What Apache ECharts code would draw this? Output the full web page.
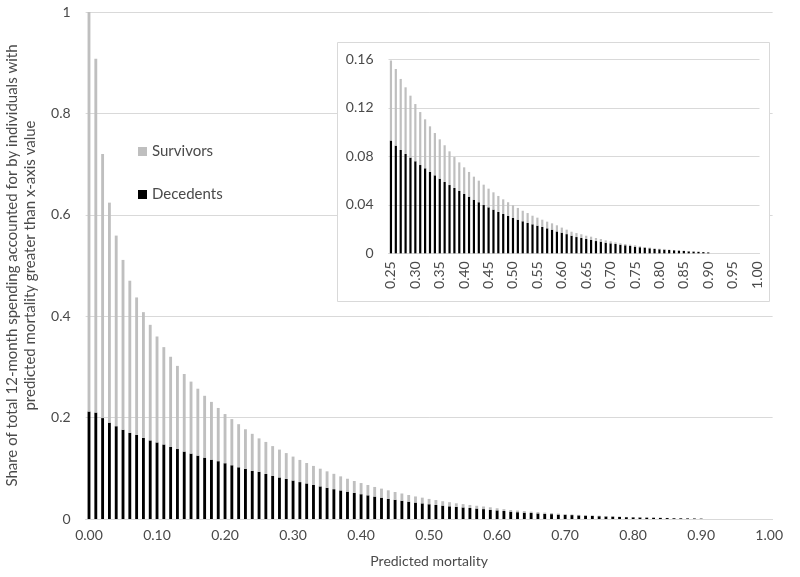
<!DOCTYPE html>
<html>
<head>
<meta charset="utf-8">
<script src="https://cdn.jsdelivr.net/npm/echarts@6/dist/echarts.min.js"></script>
<style>html,body{margin:0;padding:0;background:#fff}#c{width:800px;height:577px}</style>
</head>
<body>
<div id="c"></div>
<script>
var categories = ["0.00","0.01","0.02","0.03","0.04","0.05","0.06","0.07","0.08","0.09",
"0.10","0.11","0.12","0.13","0.14","0.15","0.16","0.17","0.18","0.19",
"0.20","0.21","0.22","0.23","0.24","0.25","0.26","0.27","0.28","0.29",
"0.30","0.31","0.32","0.33","0.34","0.35","0.36","0.37","0.38","0.39",
"0.40","0.41","0.42","0.43","0.44","0.45","0.46","0.47","0.48","0.49",
"0.50","0.51","0.52","0.53","0.54","0.55","0.56","0.57","0.58","0.59",
"0.60","0.61","0.62","0.63","0.64","0.65","0.66","0.67","0.68","0.69",
"0.70","0.71","0.72","0.73","0.74","0.75","0.76","0.77","0.78","0.79",
"0.80","0.81","0.82","0.83","0.84","0.85","0.86","0.87","0.88","0.89",
"0.90","0.91","0.92","0.93","0.94","0.95","0.96","0.97","0.98","0.99","1.00"];

var decedents = [0.212,0.210,0.199,0.190,0.183,0.176,0.170,0.166,0.160,0.155,
0.151,0.147,0.142,0.138,0.133,0.129,0.125,0.121,0.117,0.114,
0.110,0.106,0.102,0.099,0.095,0.093,0.0888,0.0852,0.0819,0.0789,
0.0759,0.0728,0.0701,0.0671,0.0643,0.0615,0.0588,0.0563,0.0539,0.0514,
0.0489,0.0467,0.0442,0.0421,0.0398,0.0379,0.0360,0.0341,0.0324,0.0308,
0.0291,0.0277,0.0264,0.0250,0.0239,0.0228,0.0217,0.0206,0.0195,0.0180,
0.0170,0.0158,0.0145,0.0134,0.0126,0.0118,0.0110,0.0101,0.0096,0.0087,
0.0082,0.0077,0.0071,0.0066,0.0060,0.0055,0.0050,0.0047,0.0041,0.0036,
0.0033,0.0030,0.0027,0.0025,0.0022,0.0019,0.0016,0.0014,0.0012,0.0010,
0.0007,0,0,0,0,0,0,0,0,0,0];

var survivors = [0.788,0.698,0.521,0.434,0.376,0.335,0.300,0.271,0.248,0.228,
0.209,0.192,0.178,0.164,0.153,0.142,0.132,0.122,0.114,0.105,
0.097,0.091,0.085,0.078,0.073,0.066,0.0632,0.0586,0.0550,0.0511,
0.0472,0.0437,0.0404,0.0376,0.0349,0.0325,0.0303,0.0278,0.0255,0.0236,
0.0220,0.0204,0.0190,0.0178,0.0168,0.0154,0.0143,0.0132,0.0121,0.0113,
0.0105,0.0097,0.0087,0.0082,0.0071,0.0066,0.0060,0.0055,0.0052,0.0051,
0.0042,0.0037,0.0033,0.0033,0.0031,0.0027,0.0027,0.0025,0.0022,0.0020,
0.0017,0.0013,0.0011,0.0011,0.0011,0.0011,0.0008,0.0005,0.0006,0.0005,
0.0005,0.0006,0.0003,0.0002,0.0003,0.0003,0.0003,0.0002,0.0002,0.0001,
0.0001,0,0,0,0,0,0,0,0,0,0];

var mainYTicks = ["0","0.2","0.4","0.6","0.8","1"];
var insetYTicks = ["0","0.04","0.08","0.12","0.16"];
var insetStart = 25;

var insetCats = categories.slice(insetStart);
var insetDec = decedents.slice(insetStart);
var insetSurv = survivors.slice(insetStart);

var FONT = "Lato";
var TXT = "#4a4a4a";
var GRID = "#d9d9d9";

var chart = echarts.init(document.getElementById('c'), null, {renderer: 'canvas'});
chart.setOption({
  animation: false,
  backgroundColor: '#fff',
  textStyle: {fontFamily: FONT},
  graphic: [{
    type: 'rect', z: 1,
    shape: {x: 337.5, y: 42.5, width: 432, height: 259},
    style: {fill: '#fff', stroke: GRID, lineWidth: 1}
  }],
  legend: {
    orient: 'vertical', left: 133, top: 139,
    itemGap: 28, itemWidth: 9, itemHeight: 9,
    icon: 'rect',
    textStyle: {color: TXT, fontSize: 15, fontFamily: FONT},
    data: ['Survivors', 'Decedents']
  },
  grid: [
    {left: 85.6, right: 27.4, top: 12, bottom: 58, outerBoundsMode: 'none', containLabel: false},
    {left: 388.5, right: 40.5, top: 59.3, bottom: 323.7, outerBoundsMode: 'none', containLabel: false}
  ],
  xAxis: [{
    type: 'category', gridIndex: 0, data: categories,
    axisLine: {lineStyle: {color: GRID}}, axisTick: {show: false},
    axisLabel: {interval: 9, color: TXT, fontSize: 14, margin: 9, fontFamily: FONT},
    name: 'Predicted mortality', nameLocation: 'middle', nameGap: 35,
    nameTextStyle: {color: TXT, fontSize: 14, fontFamily: FONT}
  }, {
    type: 'category', gridIndex: 1, data: insetCats, z: 3,
    axisLine: {lineStyle: {color: GRID}}, axisTick: {show: false},
    axisLabel: {interval: 4, rotate: 90, color: TXT, fontSize: 14, margin: 8, fontFamily: FONT}
  }],
  yAxis: [{
    type: 'value', gridIndex: 0, min: 0, max: 1, interval: 0.2,
    axisLine: {show: false}, axisTick: {show: false},
    splitLine: {lineStyle: {color: GRID}},
    axisLabel: {color: TXT, fontSize: 14, margin: 15, fontFamily: FONT,
      formatter: function (v) { return mainYTicks[Math.round(v / 0.2)]; }},
    name: 'Share of total 12-month spending accounted for by individuals with\npredicted mortality greater than x-axis value',
    nameLocation: 'middle', nameGap: 46,
    nameTextStyle: {color: TXT, fontSize: 15, lineHeight: 18, fontFamily: FONT}
  }, {
    type: 'value', gridIndex: 1, min: 0, max: 0.16, interval: 0.04, z: 3,
    axisLine: {show: false}, axisTick: {show: false},
    splitLine: {lineStyle: {color: GRID}},
    axisLabel: {color: TXT, fontSize: 14, margin: 15, fontFamily: FONT,
      formatter: function (v) { return insetYTicks[Math.round(v / 0.04)]; }}
  }],
  series: [
    {name: 'Decedents', type: 'bar', stack: 'm', xAxisIndex: 0, yAxisIndex: 0,
     data: decedents, barWidth: '42%', itemStyle: {color: '#000'}},
    {name: 'Survivors', type: 'bar', stack: 'm', xAxisIndex: 0, yAxisIndex: 0,
     data: survivors, barWidth: '42%', itemStyle: {color: '#bfbfbf'}},
    {name: 'Decedents', type: 'bar', stack: 'i', xAxisIndex: 1, yAxisIndex: 1, z: 4,
     data: insetDec, barWidth: '45%', itemStyle: {color: '#000'}},
    {name: 'Survivors', type: 'bar', stack: 'i', xAxisIndex: 1, yAxisIndex: 1, z: 4,
     data: insetSurv, barWidth: '45%', itemStyle: {color: '#bfbfbf'}}
  ]
});
</script>
</body>
</html>
